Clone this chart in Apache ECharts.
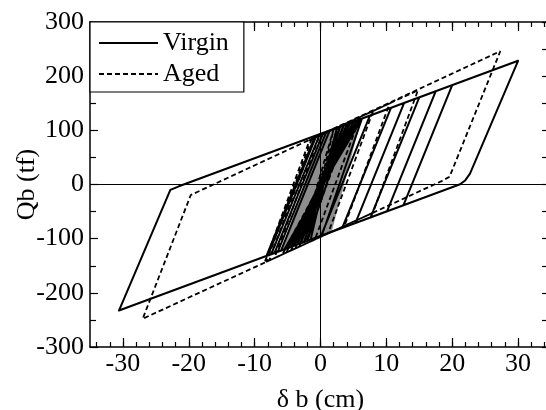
<!DOCTYPE html>
<html>
<head>
<meta charset="utf-8">
<script src="https://cdn.jsdelivr.net/npm/echarts@6/dist/echarts.min.js"></script>
<style>
html,body{margin:0;padding:0;background:#fff;}
#chart{width:546px;height:410px;}
</style>
</head>
<body>
<div id="chart"></div>
<script>
// ---- data ----
const xMajorTicks = [-30, -20, -10, 0, 10, 20, 30];
const xMinorTicks = [-34,-32,-30,-28,-26,-24,-22,-20,-18,-16,-14,-12,-10,-8,-6,-4,-2,0,2,4,6,8,10,12,14,16,18,20,22,24,26,28,30,32,34];
const yTicks = [-300, -200, -100, 0, 100, 200, 300];

// Virgin (solid) hysteresis path: [δb (cm), Qb (tf)]
const virgin = [
  [0,0],
  [3,107],[-2.5,-106.3],[3.5,109.2],[-3,-108.5],[4,111.4],[-3.5,-110.8],[4.5,113.7],
  [-4,-113],[5,115.9],[-4.5,-115.3],[5.5,118.2],[-5,-117.5],[6,120.4],[-5.5,-119.8],[6.3,121.8],
  [0.2,-94.1],[-7,-126.5],
  [0.4,95.2],[7.5,127.2],
  [0.1,-94.5],[-8.2,-131.9],
  [-0.8,89.8],[10.7,141.6],
  [3.3,-80.1],[-6.5,-124.3],
  [0.9,97.4],[12.7,150.6],
  [5.3,-71.1],[-7.5,-128.8],
  [-0.1,92.9],[15,160.9],
  [7.6,-60.8],[-6,-122],
  [1.4,99.7],[17.5,172.2],
  [10.1,-49.5],[-8,-131],
  [-0.6,90.7],[20,183.4],
  [12.6,-38.3],[-30.6,-232.7],
  [-22.8,-10],[-21.6,-3.8],[30,228.4],
  [22.7,20],[22,8],[21.2,0.4],[-8,-131],
  [-0.6,90.7],[4,111.4],[-2,-104],[2.5,104.7],[-1.5,-101.8]
];

// Aged (dashed) hysteresis path
const aged = [
  [0,0],
  [2,102.2],[-3.2,-114.6],[2.8,106.7],[-3.8,-118],[3.6,111.2],[-4.5,-121.9],[4.4,115.6],
  [-5.2,-125.8],[5.2,120.1],[-5.8,-129.2],[6,124.6],
  [-0.85,-101.5],[-8.5,-144.3],
  [-1.65,81.8],[8,135.8],
  [1.15,-90.3],[-7,-135.9],
  [-0.15,90.2],[10.5,149.8],
  [3.65,-76.3],[-7.8,-140.4],
  [-0.95,85.7],[14.8,173.9],
  [7.95,-52.2],[-27,-247.9],
  [-19.7,-19.4],[-18.8,-14.3],[27.3,246],
  [19.6,14.4],[18.4,6.3],[17.5,1.3],[-8.2,-142.6],
  [-1.35,83.4],[4.5,116.2],[-2.35,-109.9]
];

// dense (gray) band of small cycles in the centre
const grayBand = [[0.15,94.1],[6.2,121.3],[1.7,-87.4],[-5.9,-121.6]];

const FONT = "'Liberation Serif', 'Times New Roman', Times, serif";

const chart = echarts.init(document.getElementById('chart'), null, {renderer:'canvas'});

function xAxisDef(pos, ticks, len, withLine, withLabels){
  return {
    type:'value', position:pos, min:-35, max:35,
    axisLine:{show:withLine, onZero:false, lineStyle:{color:'#000', width:1.5}},
    axisTick:{show:true, inside:true, length:len, customValues:ticks, lineStyle:{color:'#000', width:1.2}},
    axisLabel:{show:withLabels, customValues:xMajorTicks, color:'#000', fontFamily:FONT, fontSize:26, margin:4},
    splitLine:{show:false}
  };
}

const option = {
  animation:false,
  backgroundColor:'#fff',
  grid:{left:90, top:22, right:-5, bottom:63, containLabel:false, outerBoundsMode:'none'},
  legend:{
    show:true, orient:'vertical', left:90, top:22,
    padding:[8,15,5,8], itemWidth:59, itemHeight:14, itemGap:5,
    backgroundColor:'#fff', borderColor:'#000', borderWidth:1.2,
    itemStyle:{opacity:0},
    textStyle:{fontFamily:FONT, fontSize:26, color:'#000', lineHeight:26},
    data:['Virgin','Aged']
  },
  xAxis:[
    Object.assign(xAxisDef('bottom', xMajorTicks, 9, true, true), {
      name:'δ b (cm)', nameLocation:'middle', nameGap:40, nameMoveOverlap:false,
      nameTextStyle:{fontFamily:FONT, fontSize:26, color:'#000'}
    }),
    xAxisDef('bottom', xMinorTicks, 5, false, false),
    xAxisDef('top', xMajorTicks, 9, true, false),
    xAxisDef('top', xMinorTicks, 5, false, false)
  ],
  yAxis:[
    {
      type:'value', position:'left', min:-300, max:300, interval:100,
      name:'Qb (tf)', nameLocation:'middle', nameGap:50, nameRotate:90, nameMoveOverlap:false,
      nameTextStyle:{fontFamily:FONT, fontSize:26, color:'#000'},
      axisLine:{show:true, onZero:false, lineStyle:{color:'#000', width:1.5}},
      axisTick:{show:true, inside:true, length:8, lineStyle:{color:'#000', width:1.2}},
      minorTick:{show:true, splitNumber:2, length:6, lineStyle:{color:'#000', width:1.2}},
      axisLabel:{color:'#000', fontFamily:FONT, fontSize:26, margin:6,
        customValues:yTicks},
      splitLine:{show:false}
    },
    {
      type:'value', position:'right', min:-300, max:300, interval:100,
      axisLine:{show:true, onZero:false, lineStyle:{color:'#000', width:1.5}},
      axisTick:{show:true, inside:true, length:9, lineStyle:{color:'#000', width:1.2}},
      minorTick:{show:true, splitNumber:2, length:9, lineStyle:{color:'#000', width:1.2}},
      axisLabel:{show:false},
      splitLine:{show:false}
    }
  ],
  series:[
    {
      type:'custom', name:'band', xAxisIndex:0, yAxisIndex:0, silent:true, z:1,
      data:[[0,0]],
      renderItem:function(params, api){
        return {
          type:'polygon',
          shape:{points: grayBand.map(function(p){ return api.coord(p); })},
          style:{fill:'#8e8e8e', stroke:null}
        };
      }
    },
    {
      name:'Virgin', type:'line', xAxisIndex:0, yAxisIndex:0, data:virgin,
      symbol:'none', showSymbol:false, z:3,
      color:'#000',
      lineStyle:{color:'#000', width:2, type:'solid', join:'round'},
      markLine:{
        symbol:'none', silent:true, label:{show:false},
        lineStyle:{color:'#000', width:1, type:'solid'},
        data:[{yAxis:0},{xAxis:0}]
      }
    },
    {
      name:'Aged', type:'line', xAxisIndex:0, yAxisIndex:0, data:aged,
      symbol:'none', showSymbol:false, z:3,
      color:'#000',
      lineStyle:{color:'#000', width:1.8, type:[5,3]}
    }
  ]
};
chart.setOption(option);
</script>
</body>
</html>
